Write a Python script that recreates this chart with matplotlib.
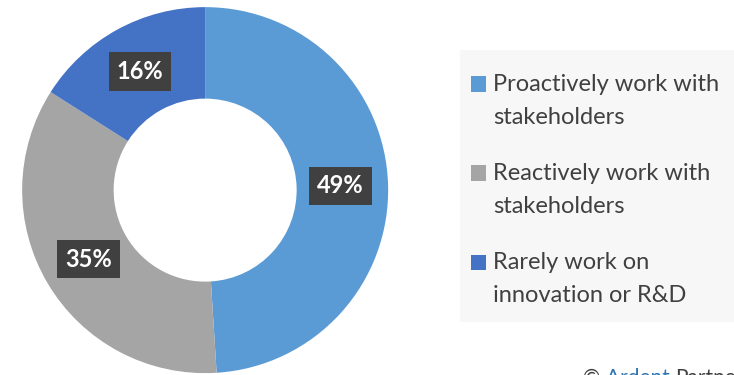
import matplotlib.pyplot as plt
from matplotlib.patches import Rectangle, Patch
from matplotlib.legend_handler import HandlerPatch

plt.rcParams['font.family'] = ['Lato', 'DejaVu Sans']

labels = ['Proactively work with\nstakeholders',
          'Reactively work with\nstakeholders',
          'Rarely work on\ninnovation or R&D']
shares = [49, 35, 16]
colors = ['#5B9BD5', '#A5A5A5', '#4472C4']

fig = plt.figure(figsize=(7.34, 3.75), dpi=100)

# donut
ax = fig.add_axes([0.030, 0.005, 0.499, 0.976])
wedges, texts, autotexts = ax.pie(
    shares, colors=colors, startangle=90, counterclock=False,
    radius=1.0, wedgeprops=dict(width=0.5, edgecolor='none'),
    autopct='%d%%', pctdistance=0.74,
    textprops=dict(color='white', fontsize=17, fontweight='bold'))
for t in autotexts:
    t.set_bbox(dict(boxstyle='square,pad=0.33', fc='#404040', ec='none'))
ax.set_xlim(-1, 1)
ax.set_ylim(-1, 1)
ax.set_aspect('equal')
ax.axis('off')


# legend square sits next to the first line of each two-line label
def top_square(legend, orig_handle, xdescent, ydescent, width, height, fontsize):
    return Rectangle((-xdescent, -ydescent + 0.72 * fontsize), width, height)


# legend panel
fig.patches.append(Rectangle((460 / 734, 1 - 322 / 375), 280 / 734, 272 / 375,
                             transform=fig.transFigure, fc='#F7F7F7', ec='none', zorder=0))
handles = [Patch(fc=c, ec='none') for c in colors]
leg = fig.legend(handles, labels, loc='upper left',
                 bbox_to_anchor=(459 / 734, 1 - 62 / 375), frameon=False,
                 fontsize=17, labelcolor='#404040', handlelength=0.65, handleheight=0.65,
                 handletextpad=0.3, labelspacing=1.5, borderpad=0,
                 handler_map={Patch: HandlerPatch(patch_func=top_square)})
for t in leg.get_texts():
    t.set_linespacing(1.7)

# source line, cut off at the bottom edge like the reference
src = fig.text(583 / 734, 1 - 368 / 375, '© ', color='#404040', fontsize=15, va='top')
a1 = ax.annotate('Ardent ', xy=(1, 0), xycoords=src, va='bottom', ha='left',
                 color='#2E75B6', fontsize=15, annotation_clip=False)
a2 = ax.annotate('Partners', xy=(1, 0), xycoords=a1, va='bottom', ha='left',
                 color='#404040', fontsize=15, annotation_clip=False)

fig.savefig('out.png', dpi=100)
